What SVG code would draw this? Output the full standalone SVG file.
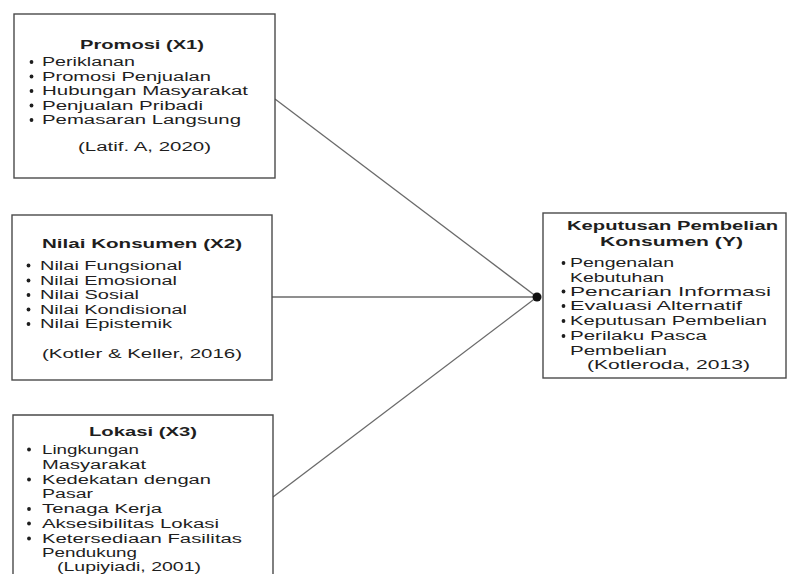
<svg xmlns="http://www.w3.org/2000/svg" width="789" height="574" viewBox="0 0 789 574">
<style>
.box{fill:#fff;stroke:#4a4a4a;stroke-width:1.4}
.t{font-family:"Liberation Sans",Arial,sans-serif;font-size:12.5px;fill:#1e1e1e}
.b{font-weight:bold}
.bul{fill:#1e1e1e}
.con{stroke:#6a6a6a;stroke-width:1.3;fill:none}
</style>
<rect width="789" height="574" fill="#fff"/>
<g id="connectors">
<line class="con" x1="275" y1="99" x2="537" y2="297"/>
<line class="con" x1="272" y1="297" x2="537" y2="297"/>
<line class="con" x1="273" y1="497" x2="537" y2="297"/>
<circle cx="537" cy="297" r="4.5" fill="#111"/>
</g>
<g id="promosi">
<rect class="box" x="14" y="14" width="261" height="164"/>
<text class="t b" x="80" y="49" textLength="124" lengthAdjust="spacingAndGlyphs">Promosi (X1)</text>
<circle class="bul" cx="31.5" cy="62" r="1.9"/><text class="t" x="42" y="66" textLength="93" lengthAdjust="spacingAndGlyphs">Periklanan</text>
<circle class="bul" cx="31.5" cy="76.5" r="1.9"/><text class="t" x="42" y="80.5" textLength="169" lengthAdjust="spacingAndGlyphs">Promosi Penjualan</text>
<circle class="bul" cx="31.5" cy="91" r="1.9"/><text class="t" x="42" y="95" textLength="206" lengthAdjust="spacingAndGlyphs">Hubungan Masyarakat</text>
<circle class="bul" cx="31.5" cy="105.5" r="1.9"/><text class="t" x="42" y="109.5" textLength="161" lengthAdjust="spacingAndGlyphs">Penjualan Pribadi</text>
<circle class="bul" cx="31.5" cy="120" r="1.9"/><text class="t" x="42" y="124" textLength="199" lengthAdjust="spacingAndGlyphs">Pemasaran Langsung</text>
<text class="t" x="78" y="151" textLength="133" lengthAdjust="spacingAndGlyphs">(Latif. A, 2020)</text>
</g>
<g id="nilai">
<rect class="box" x="12" y="215" width="260" height="165"/>
<text class="t b" x="42" y="247.5" textLength="200" lengthAdjust="spacingAndGlyphs">Nilai Konsumen (X2)</text>
<circle class="bul" cx="28.5" cy="265.5" r="1.9"/><text class="t" x="40" y="269.5" textLength="142" lengthAdjust="spacingAndGlyphs">Nilai Fungsional</text>
<circle class="bul" cx="28.5" cy="280.5" r="1.9"/><text class="t" x="40" y="284.5" textLength="137" lengthAdjust="spacingAndGlyphs">Nilai Emosional</text>
<circle class="bul" cx="28.5" cy="295" r="1.9"/><text class="t" x="40" y="299" textLength="99" lengthAdjust="spacingAndGlyphs">Nilai Sosial</text>
<circle class="bul" cx="28.5" cy="309.5" r="1.9"/><text class="t" x="40" y="313.5" textLength="147" lengthAdjust="spacingAndGlyphs">Nilai Kondisional</text>
<circle class="bul" cx="28.5" cy="324" r="1.9"/><text class="t" x="40" y="328" textLength="132" lengthAdjust="spacingAndGlyphs">Nilai Epistemik</text>
<text class="t" x="42" y="358" textLength="200" lengthAdjust="spacingAndGlyphs">(Kotler &amp; Keller, 2016)</text>
</g>
<g id="lokasi">
<path class="box" d="M13 575 V415 H273 V575"/>
<text class="t b" x="89" y="436" textLength="108" lengthAdjust="spacingAndGlyphs">Lokasi (X3)</text>
<circle class="bul" cx="29" cy="449.5" r="1.9"/><text class="t" x="42" y="453.5" textLength="97" lengthAdjust="spacingAndGlyphs">Lingkungan</text>
<text class="t" x="42" y="468.5" textLength="104" lengthAdjust="spacingAndGlyphs">Masyarakat</text>
<circle class="bul" cx="29" cy="479.5" r="1.9"/><text class="t" x="42" y="483.5" textLength="169" lengthAdjust="spacingAndGlyphs">Kedekatan dengan</text>
<text class="t" x="42" y="498" textLength="51" lengthAdjust="spacingAndGlyphs">Pasar</text>
<circle class="bul" cx="29" cy="509" r="1.9"/><text class="t" x="42" y="513" textLength="120" lengthAdjust="spacingAndGlyphs">Tenaga Kerja</text>
<circle class="bul" cx="29" cy="523.5" r="1.9"/><text class="t" x="42" y="527.5" textLength="177" lengthAdjust="spacingAndGlyphs">Aksesibilitas Lokasi</text>
<circle class="bul" cx="29" cy="538.5" r="1.9"/><text class="t" x="42" y="542.5" textLength="200" lengthAdjust="spacingAndGlyphs">Ketersediaan Fasilitas</text>
<text class="t" x="42" y="557" textLength="95" lengthAdjust="spacingAndGlyphs">Pendukung</text>
<text class="t" x="57" y="571" textLength="144" lengthAdjust="spacingAndGlyphs">(Lupiyiadi, 2001)</text>
</g>
<g id="keputusan">
<rect class="box" x="543" y="213" width="243" height="165"/>
<text class="t b" x="567" y="229.5" textLength="211" lengthAdjust="spacingAndGlyphs">Keputusan Pembelian</text>
<text class="t b" x="600" y="246" textLength="143" lengthAdjust="spacingAndGlyphs">Konsumen (Y)</text>
<circle class="bul" cx="563.5" cy="263" r="1.9"/><text class="t" x="570" y="267" textLength="104" lengthAdjust="spacingAndGlyphs">Pengenalan</text>
<text class="t" x="570" y="281.5" textLength="94" lengthAdjust="spacingAndGlyphs">Kebutuhan</text>
<circle class="bul" cx="563.5" cy="291.5" r="1.9"/><text class="t" x="570" y="295.5" textLength="201" lengthAdjust="spacingAndGlyphs">Pencarian Informasi</text>
<circle class="bul" cx="563.5" cy="306" r="1.9"/><text class="t" x="570" y="310" textLength="172" lengthAdjust="spacingAndGlyphs">Evaluasi Alternatif</text>
<circle class="bul" cx="563.5" cy="321" r="1.9"/><text class="t" x="570" y="325" textLength="197" lengthAdjust="spacingAndGlyphs">Keputusan Pembelian</text>
<circle class="bul" cx="563.5" cy="336" r="1.9"/><text class="t" x="570" y="340" textLength="137" lengthAdjust="spacingAndGlyphs">Perilaku Pasca</text>
<text class="t" x="570" y="355" textLength="97" lengthAdjust="spacingAndGlyphs">Pembelian</text>
<text class="t" x="587" y="369" textLength="163" lengthAdjust="spacingAndGlyphs">(Kotleroda, 2013)</text>
</g>
</svg>
